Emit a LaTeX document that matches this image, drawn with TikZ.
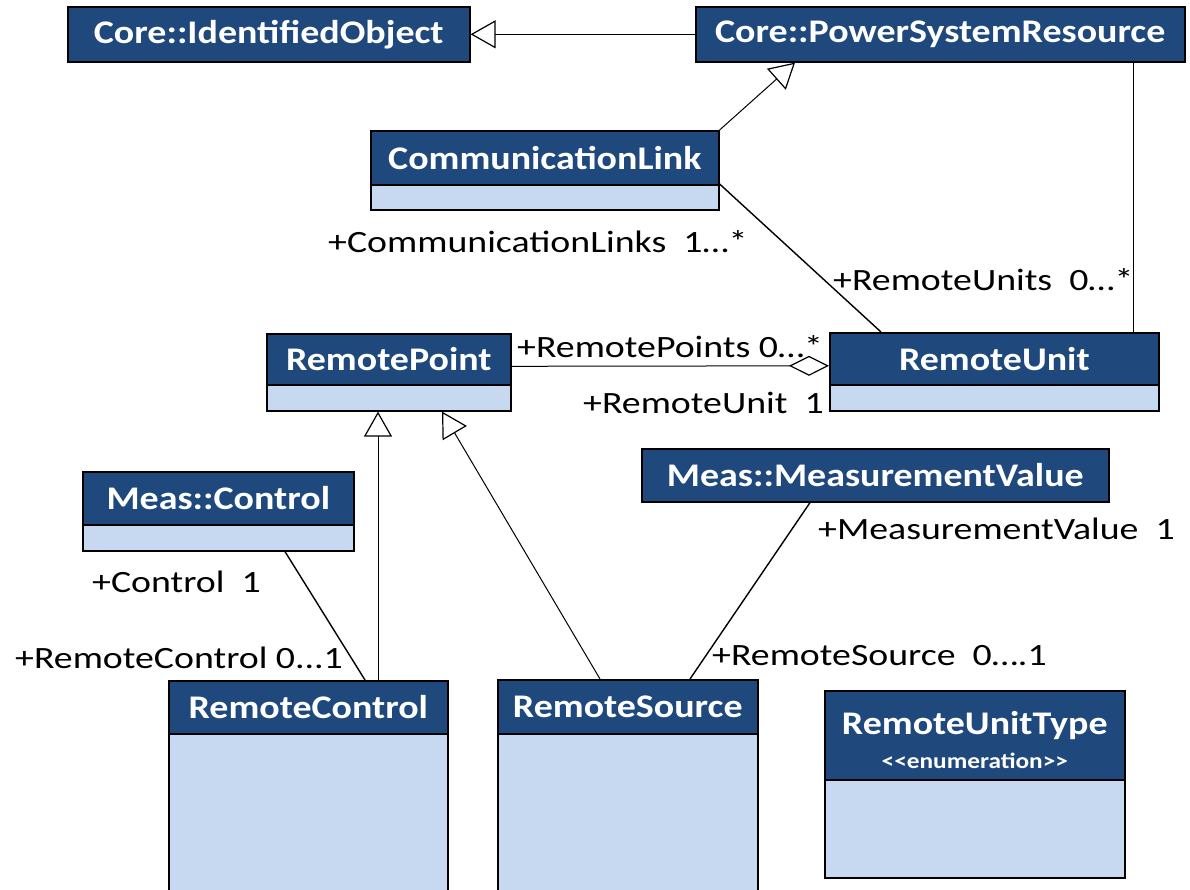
\documentclass[tikz,border=0pt]{standalone}
\usepackage{fontspec}
\setmainfont{Carlito}
\newfontfamily\hdrfont[FakeStretch=1.15]{Carlito}
\newfontfamily\lblfont[FakeStretch=1.22]{Carlito}
\usetikzlibrary{arrows.meta,calc}
\definecolor{hdrblue}{RGB}{31,73,125}
\definecolor{cmpblue}{RGB}{198,217,241}
\begin{document}
\begin{tikzpicture}[x=1pt,y=-1pt,
  hdr/.style={draw=black,line width=1.6pt,fill=hdrblue,text=white,
    font=\hdrfont\fontsize{33}{38}\selectfont\bfseries,anchor=north west,inner sep=0pt},
  hdrtext/.style={text=white,font=\hdrfont\fontsize{33}{38}\selectfont\bfseries,inner sep=0pt,align=center},
  cmp/.style={draw=black,line width=1.6pt,fill=cmpblue,anchor=north west,inner sep=0pt},
  lbl/.style={font=\lblfont\fontsize{31}{36}\selectfont,anchor=west,inner sep=0pt,text=black},
  conn/.style={draw=black,line width=1.4pt},
  thin/.style={draw=black,line width=1pt},
  gen/.style={thin,-{Triangle[fill=white,length=25pt,width=28pt,line width=1.2pt]}},
  agg/.style={thin,-{Diamond[fill=white,length=40pt,width=20pt,line width=1.2pt]}}
]
\useasboundingbox (0,0) rectangle (1190,889);
\clip (0,0) rectangle (1190,889);

% classes
\node[hdr,minimum width=402pt,minimum height=55pt] (io) at (67,6) {Core::IdentifiedObject};
\node[hdr,minimum width=489pt,minimum height=55pt] (psr) at (695,6) {Core::PowerSystemResource};

\node[hdr,minimum width=348pt,minimum height=54pt] (cl) at (370,130) {CommunicationLink};
\node[cmp,minimum width=348pt,minimum height=25pt] (clc) at (370,184) {};

\node[hdr,minimum width=244pt,minimum height=51pt] (rp) at (266,333) {RemotePoint};
\node[cmp,minimum width=244pt,minimum height=26pt] (rpc) at (266,384) {};

\node[hdr,minimum width=329pt,minimum height=52pt] (ru) at (829,332) {RemoteUnit};
\node[cmp,minimum width=329pt,minimum height=26pt] (ruc) at (829,384) {};

\node[hdr,minimum width=271pt,minimum height=53pt] (mc) at (82,471) {Meas::Control};
\node[cmp,minimum width=271pt,minimum height=26pt] (mcc) at (82,524) {};

\node[hdr,minimum width=467pt,minimum height=53pt] (mv) at (641,448) {Meas::MeasurementValue};

\node[hdr,minimum width=279pt,minimum height=53pt] (rc) at (168,680) {RemoteControl};
\node[cmp,minimum width=279pt,minimum height=200pt] (rcc) at (168,733) {};

\node[hdr,minimum width=260pt,minimum height=54pt] (rs) at (497,679) {RemoteSource};
\node[cmp,minimum width=260pt,minimum height=200pt] (rsc) at (497,733) {};

\node[hdr,minimum width=300pt,minimum height=89pt] (rut) at (824,690) {};
\node[hdrtext] (rutt) at ($(rut.center)+(0,5)$)
  {RemoteUnitType\\[-4pt]{\fontsize{22}{26}\selectfont <{}<enumeration>{}>}};
\node[cmp,minimum width=300pt,minimum height=98pt] (rutc) at (824,779) {};

% connectors
\draw[gen] (psr.west) -- (io.east);
\draw[gen] (cl.north east) -- ($(psr.south west)+(100,0)$);
\coordinate (psrru) at ($(ru.north west)+(304,0)$);
\draw[thin] (psrru) -- (psrru |- psr.south);
\draw[conn] (clc.north east) -- ($(ru.north west)+(52,0)$);
\draw[agg] ($(rp.east)+(0,7)$) -- ($(ru.west)+(0,7)$);
\coordinate (rcg) at ($(rc.north west)+(210,0)$);
\draw[gen] (rcg) -- (rcg |- rpc.south);
\draw[gen] ($(rs.north west)+(103,0)$) -- ($(rpc.south west)+(176,0)$);
\draw[conn] ($(mcc.south west)+(203,0)$) -- ($(rc.north west)+(197,0)$);
\draw[conn] ($(mv.south west)+(169,0)$) -- ($(rs.north west)+(193,0)$);

% labels
\node[lbl] (l1) at (328,242) {+CommunicationLinks\ \ 1…*};
\node[lbl] (l2) at (833,280) {+RemoteUnits\ \ 0…*};
\node[lbl] (l3) at (517,347) {+RemotePoints 0…*};
\node[lbl] (l4) at (583,403) {+RemoteUnit\ \ 1};
\node[lbl] (l5) at (92,582) {+Control\ \ 1};
\node[lbl] (l6) at (15,658) {+RemoteControl 0...1};
\node[lbl] (l7) at (818,529) {+MeasurementValue\ \ 1};
\node[lbl] (l8) at (712,656) {+RemoteSource\ \ 0….1};
\end{tikzpicture}
\end{document}
